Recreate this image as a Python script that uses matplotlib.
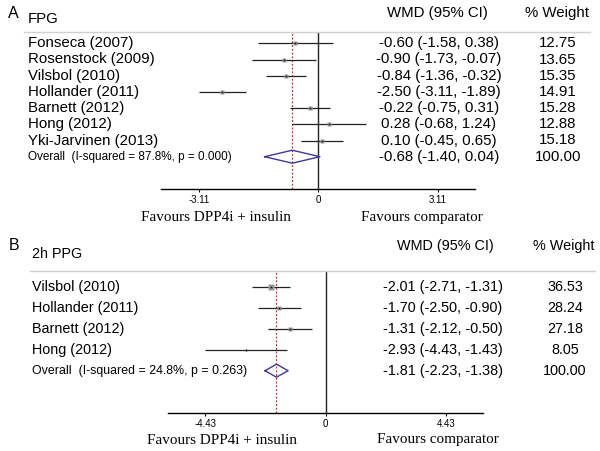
import numpy as np
import matplotlib
matplotlib.use('Agg')
import matplotlib.pyplot as plt
from matplotlib.lines import Line2D
import matplotlib.transforms as mtransforms

# Panel A: FPG
fpg_studies = ['Fonseca (2007)', 'Rosenstock (2009)', 'Vilsbol (2010)', 'Hollander (2011)',
               'Barnett (2012)', 'Hong (2012)', 'Yki-Jarvinen (2013)']
fpg_est = [-0.60, -0.90, -0.84, -2.50, -0.22, 0.28, 0.10]
fpg_lo = [-1.58, -1.73, -1.36, -3.11, -0.75, -0.68, -0.45]
fpg_hi = [0.38, -0.07, -0.32, -1.89, 0.31, 1.24, 0.65]
fpg_weight = [12.75, 13.65, 15.35, 14.91, 15.28, 12.88, 15.18]
fpg_overall = [-0.68, -1.40, 0.04]
fpg_overall_label = 'Overall  (I-squared = 87.8%, p = 0.000)'
fpg_ticks = [-3.11, 0, 3.11]
fpg_ticklabels = ['-3.11', '0', '3.11']

# Panel B: 2h PPG
ppg_studies = ['Vilsbol (2010)', 'Hollander (2011)', 'Barnett (2012)', 'Hong (2012)']
ppg_est = [-2.01, -1.70, -1.31, -2.93]
ppg_lo = [-2.71, -2.50, -2.12, -4.43]
ppg_hi = [-1.31, -0.90, -0.50, -1.43]
ppg_weight = [36.53, 28.24, 27.18, 8.05]
ppg_overall = [-1.81, -2.23, -1.38]
ppg_overall_label = 'Overall  (I-squared = 24.8%, p = 0.263)'
ppg_ticks = [-4.43, 0, 4.43]
ppg_ticklabels = ['-4.43', '0', '4.43']

W, H = 600, 451
fig = plt.figure(figsize=(6, 4.51), dpi=100)
plt.rcParams['font.family'] = ['Liberation Sans', 'DejaVu Sans']

navy = '#3a3a96'
red = '#c03030'


def fx(px):
    return px / W


def fy(py):
    return 1 - py / H


def forest(letter, title, studies, est, lo, hi, weight, overall, overall_label,
           ticks, ticklabels, ax_px, xlim, rows_px, line_x, fs, ofs, half,
           fav_x, fav_y, col_x, head_y, letter_xy, title_y):
    x0, x1, ytop, ybot = ax_px
    ax = fig.add_axes([fx(x0), fy(ybot), fx(x1 - x0), (ybot - ytop) / H])
    n = len(studies)
    r0, dr = rows_px
    # y in row units; row i (1-based) at pixel r0 + (i-1)*dr
    ax.set_ylim(1 + (ybot - r0) / dr, 1 - (r0 - ytop) / dr)
    ax.set_xlim(*xlim)
    rows = np.arange(1, n + 1)
    for s in ['top', 'left', 'right']:
        ax.spines[s].set_visible(False)
    ax.spines['bottom'].set_linewidth(1.0)
    ax.set_yticks([])
    ax.set_xticks(ticks)
    ax.set_xticklabels(ticklabels, fontsize=7)
    ax.tick_params(axis='x', length=2, width=0.8, pad=2.5)
    ax.set_facecolor('none')

    ax.axvline(0, color='#222222', lw=1.0, zorder=1)
    ax.axvline(overall[0], color=red, lw=0.9, ls=(0, (1.5, 1.5)), zorder=1)

    ax.hlines(rows, lo, hi, color='#222222', lw=0.9, zorder=2)
    sizes = 0.85 * np.sqrt(weight) / 1.389
    for r, e, s in zip(rows, est, sizes):
        ax.plot(e, r, marker='s', ms=s, color='#9a9a9a', mec='none', zorder=3)
        ax.plot(e, r, marker='s', ms=1.2, color='#111111', mec='none', zorder=4)

    yo = n + 1
    dx = [overall[1], overall[0], overall[2], overall[0], overall[1]]
    dy = [yo, yo - half, yo, yo + half, yo]
    ax.plot(dx, dy, color=navy, lw=1.0, zorder=5)

    trans = mtransforms.blended_transform_factory(fig.transFigure, ax.transData)
    for r, name in zip(rows, studies):
        ax.text(fx(col_x[0]), r, name, transform=trans, fontsize=fs, va='center', ha='left')
    ax.text(fx(col_x[0]), yo, overall_label, transform=trans, fontsize=ofs, va='center', ha='left')

    wmd_txt = ['%.2f (%.2f, %.2f)' % (e, l, h) for e, l, h in zip(est, lo, hi)]
    wmd_txt.append('%.2f (%.2f, %.2f)' % tuple(overall))
    wt_txt = ['%.2f' % w for w in weight] + ['100.00']
    for r, t1, t2 in zip(list(rows) + [yo], wmd_txt, wt_txt):
        ax.text(fx(col_x[1]), r, t1, transform=trans, fontsize=fs, va='center', ha='center')
        ax.text(fx(col_x[2]), r, t2, transform=trans, fontsize=fs, va='center', ha='center')

    # headers and panel title
    fig.text(fx(col_x[3]), fy(head_y), 'WMD (95% CI)', fontsize=fs, ha='center', va='center')
    fig.text(fx(col_x[4]), fy(head_y), '% Weight', fontsize=fs, ha='center', va='center')
    fig.text(fx(letter_xy[0]), fy(letter_xy[1]), letter, fontsize=11.5, ha='center', va='center')
    fig.text(fx(col_x[0]), fy(title_y), title, fontsize=fs, ha='left', va='center')
    fig.add_artist(Line2D([fx(line_x[0]), fx(line_x[1])], [fy(ytop), fy(ytop)],
                          color='#d0d0d0', lw=1.0))

    for x, t in zip(fav_x, ['Favours DPP4i + insulin', 'Favours comparator']):
        fig.text(fx(x), fy(fav_y), t, family=['Liberation Serif', 'DejaVu Serif'],
                 fontsize=10.9, ha='center', va='center')
    return ax


forest('A', 'FPG', fpg_studies, fpg_est, fpg_lo, fpg_hi, fpg_weight, fpg_overall,
       fpg_overall_label, fpg_ticks, fpg_ticklabels,
       ax_px=(161, 475, 32, 189), xlim=(-4.10, 4.08), rows_px=(43.3, 16.2),
       line_x=(24, 590), fs=10.8, ofs=8.5, half=0.4, fav_x=(216, 422), fav_y=217,
       col_x=(28, 439, 558, 437, 557), head_y=13, letter_xy=(13, 13), title_y=19)

forest('B', '2h PPG', ppg_studies, ppg_est, ppg_lo, ppg_hi, ppg_weight, ppg_overall,
       ppg_overall_label, ppg_ticks, ppg_ticklabels,
       ax_px=(168, 483, 271, 413), xlim=(-5.80, 5.79), rows_px=(286.7, 21.0),
       line_x=(30, 595), fs=10.4, ofs=8.9, half=0.31, fav_x=(222, 438), fav_y=440,
       col_x=(32, 443, 565, 445, 564), head_y=246, letter_xy=(14, 245), title_y=254)

plt.savefig('out.png', dpi=100)
